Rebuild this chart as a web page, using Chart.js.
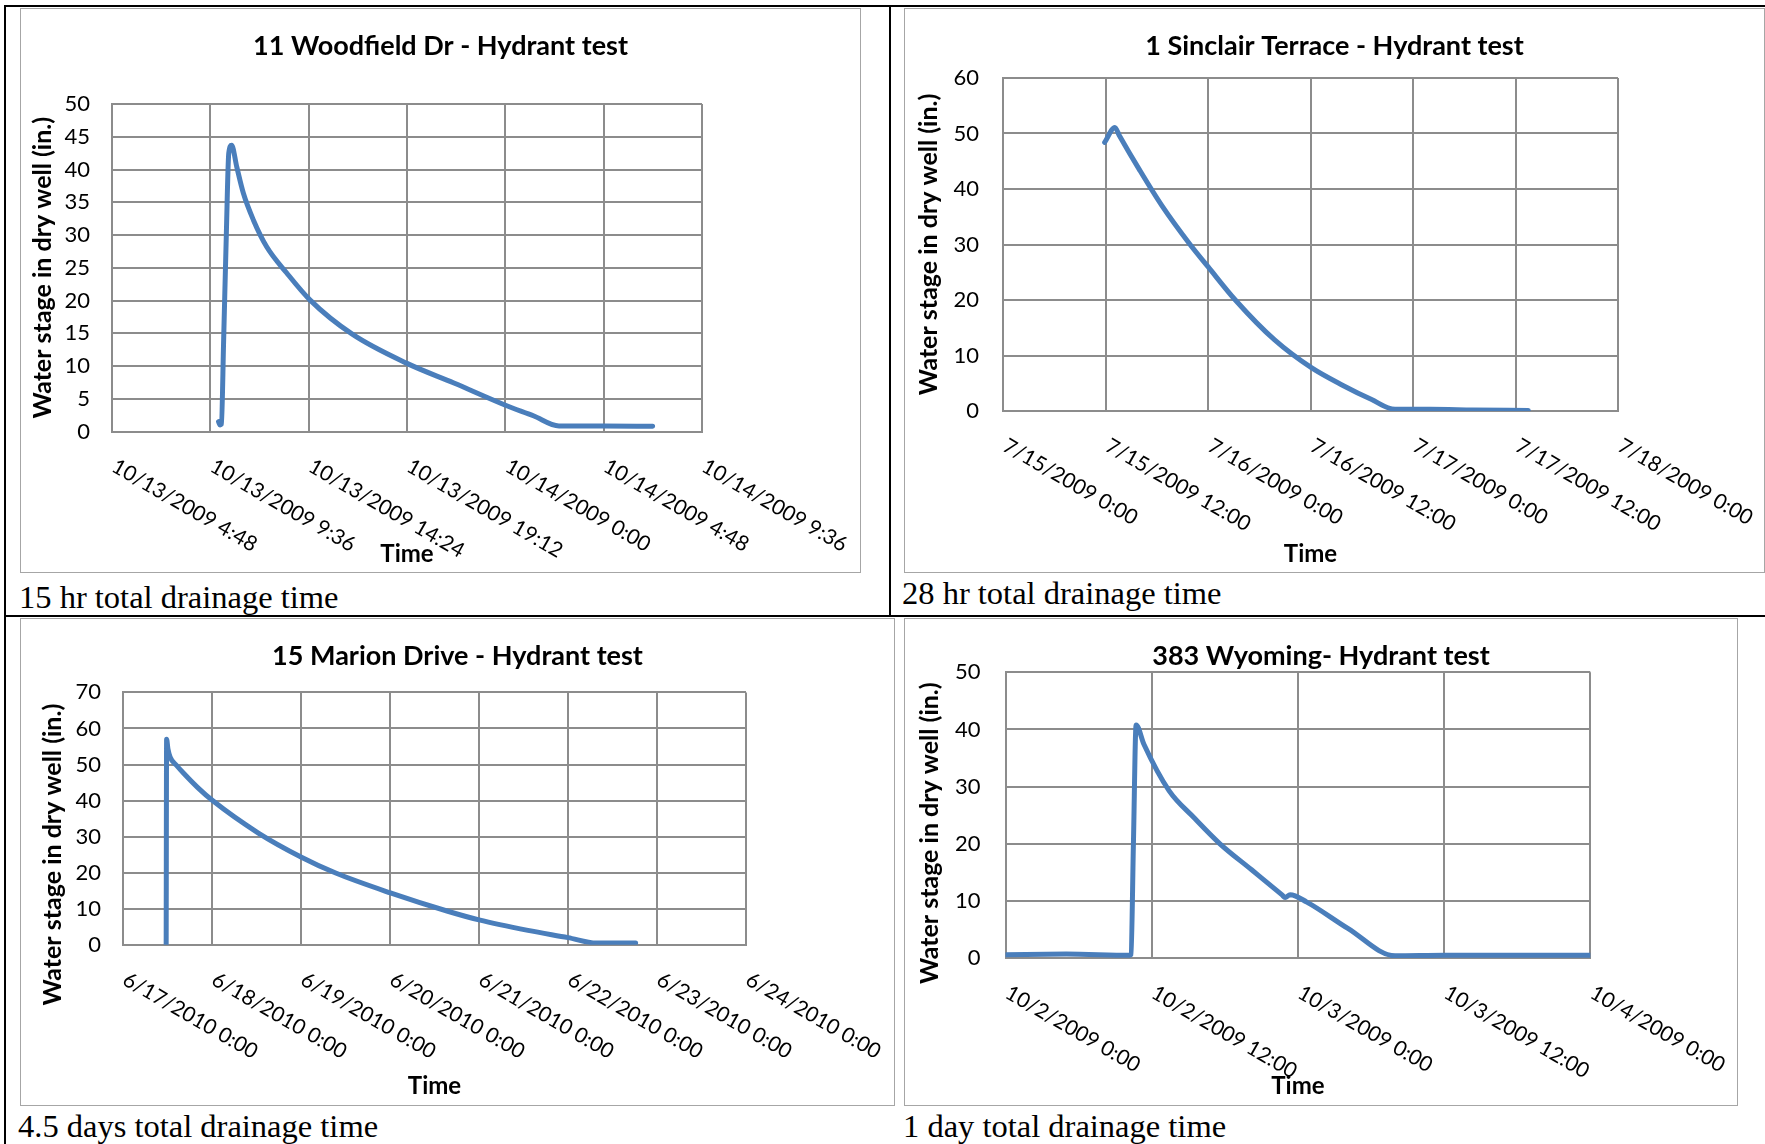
<!DOCTYPE html>
<html>
<head>
<meta charset="utf-8">
<script src="https://cdn.jsdelivr.net/npm/chart.js"></script>
<style>
  html, body { margin: 0; padding: 0; background: #fff; }
  body { width: 1765px; height: 1144px; position: relative; overflow: hidden; }
  .rule { position: absolute; background: #000; }
  .cell { position: absolute; }
  .cell canvas { position: absolute; left: 0; top: 0; }
  .frame { position: absolute; left: 0; top: 0; right: 0; bottom: 0; border: 1.5px solid #a6a6a6; }
  .cap { position: absolute; font-family: "Liberation Serif", "Times New Roman", serif; font-size: 32.5px; line-height: 32.5px; white-space: nowrap; color: #000; }
</style>
</head>
<body>

<!-- table rules -->
<div class="rule" style="left:4px; top:5px; width:1761px; height:2px;"></div>
<div class="rule" style="left:4px; top:5px; width:2px; height:1139px;"></div>
<div class="rule" style="left:889px; top:5px; width:2px; height:611px;"></div>
<div class="rule" style="left:4px; top:615px; width:1761px; height:2px;"></div>

<div class="cell" style="left:20px; top:8px; width:841px; height:565px;">
  <canvas id="woodfield" width="841" height="565"></canvas><div class="frame"></div>
</div>
<div class="cell" style="left:904px; top:8px; width:861px; height:565px;">
  <canvas id="sinclair" width="861" height="565"></canvas><div class="frame"></div>
</div>
<div class="cell" style="left:20px; top:618px; width:875px; height:488px;">
  <canvas id="marion" width="875" height="488"></canvas><div class="frame"></div>
</div>
<div class="cell" style="left:904px; top:618px; width:834px; height:488px;">
  <canvas id="wyoming" width="834" height="488"></canvas><div class="frame"></div>
</div>

<div class="cap" style="left:19px; top:581px;">15 hr total drainage time</div>
<div class="cap" style="left:902px; top:577px;">28 hr total drainage time</div>
<div class="cap" style="left:18px; top:1110px;">4.5 days total drainage time</div>
<div class="cap" style="left:903px; top:1110px;">1 day total drainage time</div>

<script>
// 11 Woodfield Dr, x = hours after 10/13/2009 4:48
const woodfieldTicks = ['10/13/2009 4:48', '10/13/2009 9:36', '10/13/2009 14:24', '10/13/2009 19:12',
                        '10/14/2009 0:00', '10/14/2009 4:48', '10/14/2009 9:36'];
const woodfieldHours = [5.20, 5.28, 5.34, 5.45, 5.58, 5.70, 5.84, 6.09, 6.41, 6.90, 7.55, 8.53, 9.66,
                        11.71, 14.40, 16.69, 19.18, 20.57, 21.82, 24.0, 26.39];
const woodfieldStage = [1.5, 1.0, 1.1, 14, 30, 42.5, 43.7, 40.4, 36.4, 32.3, 28.2, 24.2, 20.1,
                        14.9, 10.4, 7.4, 4.05, 2.4, 0.85, 0.85, 0.8];

// 1 Sinclair Terrace, x = hours after 7/15/2009 0:00
const sinclairTicks = ['7/15/2009 0:00', '7/15/2009 12:00', '7/16/2009 0:00', '7/16/2009 12:00',
                       '7/17/2009 0:00', '7/17/2009 12:00', '7/18/2009 0:00'];
const sinclairHours = [11.9, 13.1, 13.6, 16.0, 18.6, 21.9, 24.0, 27.2, 31.8, 36.1, 39.8, 43.1, 45.9, 50.0, 55.0, 61.5];
const sinclairStage = [48.4, 51.1, 49.7, 43.4, 37.0, 30.0, 26.0, 20.0, 12.8, 7.8, 4.6, 2.1, 0.3, 0.3, 0.2, 0.1];

// 15 Marion Drive, x = days after 6/17/2010 0:00
const marionTicks = ['6/17/2010 0:00', '6/18/2010 0:00', '6/19/2010 0:00', '6/20/2010 0:00',
                     '6/21/2010 0:00', '6/22/2010 0:00', '6/23/2010 0:00', '6/24/2010 0:00'];
const marionDays  = [0.485, 0.49, 0.505, 0.53, 0.6, 0.684, 0.84, 1.006, 1.521, 2.005, 2.39, 3.004, 3.649, 4.0, 4.55, 5.0, 5.32, 5.76];
const marionStage = [0.0, 57.0, 54.3, 52.0, 49.8, 47.5, 43.6, 40.0, 31.0, 24.3, 19.9, 14.4, 9.3, 6.9, 4.0, 2.0, 0.5, 0.5];

// 383 Wyoming, x = hours after 10/2/2009 0:00
const wyomingTicks = ['10/2/2009 0:00', '10/2/2009 12:00', '10/3/2009 0:00', '10/3/2009 12:00', '10/4/2009 0:00'];
const wyomingHours = [0, 5, 10.2, 10.3, 10.5, 10.72, 11.36, 13.42, 15.5, 17.6, 20.2, 22.7, 22.95, 23.36, 24.73,
                      28.1, 31.98, 36, 42, 48];
const wyomingStage = [0.6, 0.7, 0.5, 0.6, 20, 40.8, 37.4, 29.3, 24.5, 20.0, 15.45, 11.05, 10.6, 11.1, 9.8,
                      5.2, 0.4, 0.5, 0.5, 0.5];

const yTitle = 'Water stage in dry well (in.)';
const gridGray = '#8c8c8c';

// Excel-style text: centred title, shifted y title, x labels slanted down to the right
const excelText = {
  id: 'excelText',
  afterDraw(chart, args, o) {
    const ctx = chart.ctx, area = chart.chartArea, xs = chart.scales.x;
    ctx.save();
    ctx.fillStyle = '#000';
    ctx.font = 'bold 27px Lato';
    ctx.textAlign = 'center';
    ctx.textBaseline = 'middle';
    ctx.fillText(o.title, chart.width / 2, o.titleY);

    ctx.save();
    ctx.translate(o.yTitleX, (area.top + area.bottom) / 2 + o.yTitleShift);
    ctx.rotate(-Math.PI / 2);
    ctx.font = 'bold 25px Lato';
    ctx.fillText(yTitle, 0, 0);
    ctx.restore();

    ctx.font = '21px Lato';
    ctx.textAlign = 'left';
    ctx.textBaseline = 'top';
    xs.ticks.forEach((t, i) => {
      ctx.save();
      ctx.translate(xs.getPixelForTick(i) + 7, area.bottom + 24);
      ctx.rotate(Math.PI / 6);
      ctx.fillText(o.labels[i], 0, 0);
      ctx.restore();
    });
    ctx.restore();
  }
};

function drawChart(id, xs, ys, s) {
  const canvas = document.getElementById(id);
  const W = canvas.width, H = canvas.height;
  return new Chart(canvas, {
    type: 'line',
    data: {
      datasets: [{
        data: xs.map((x, i) => ({ x: x, y: ys[i] })),
        borderColor: '#4a7ebb',
        borderWidth: 5,
        pointRadius: 0,
        cubicInterpolationMode: 'monotone',
        borderCapStyle: 'round',
        borderJoinStyle: 'round',
        fill: false
      }]
    },
    plugins: [excelText],
    options: {
      responsive: false,
      animation: false,
      layout: { padding: { left: 0, top: s.top, right: W - s.right, bottom: 0 } },
      plugins: {
        legend: { display: false },
        tooltip: { enabled: false },
        excelText: { title: s.title, titleY: s.titleY, yTitleX: s.yTitleX, yTitleShift: s.yTitleShift, labels: s.labels }
      },
      scales: {
        x: {
          type: 'linear', min: 0, max: s.xMax,
          ticks: { display: false, stepSize: s.xStep },
          grid: { color: gridGray, lineWidth: 2, drawTicks: false },
          border: { color: gridGray, width: 2 },
          title: {
            display: true, text: 'Time', color: '#000',
            font: { family: 'Lato', weight: 'bold', size: 24 },
            padding: { top: 0, bottom: H - s.timeY - 14.4 }
          },
          afterFit: sc => { sc.height = H - s.bottom; }
        },
        y: {
          min: 0, max: s.yMax,
          ticks: { stepSize: s.yStep, padding: s.tickPad, color: '#000', font: { family: 'Lato', size: 22 } },
          grid: { color: gridGray, lineWidth: 2, drawTicks: false },
          border: { color: gridGray, width: 2 },
          afterFit: sc => { sc.width = s.left; }
        }
      }
    }
  });
}

drawChart('woodfield', woodfieldHours, woodfieldStage, {
  title: '11 Woodfield Dr - Hydrant test', labels: woodfieldTicks,
  left: 92, right: 682, top: 96, bottom: 423.5,
  titleY: 38.7, yTitleX: 23, yTitleShift: 0, tickPad: 22, timeY: 546,
  xMax: 28.8, xStep: 4.8, yMax: 50, yStep: 5
});
drawChart('sinclair', sinclairHours, sinclairStage, {
  title: '1 Sinclair Terrace - Hydrant test', labels: sinclairTicks,
  left: 99, right: 714, top: 70, bottom: 403,
  titleY: 38, yTitleX: 24.7, yTitleShift: 0, tickPad: 24, timeY: 546,
  xMax: 72, xStep: 12, yMax: 60, yStep: 10
});
drawChart('marion', marionDays, marionStage, {
  title: '15 Marion Drive - Hydrant test', labels: marionTicks,
  left: 103, right: 726, top: 74.4, bottom: 326.8,
  titleY: 38, yTitleX: 33, yTitleShift: 36, tickPad: 22, timeY: 468,
  xMax: 7, xStep: 1, yMax: 70, yStep: 10
});
drawChart('wyoming', wyomingHours, wyomingStage, {
  title: '383 Wyoming- Hydrant test', labels: wyomingTicks,
  left: 101.5, right: 686.3, top: 54.3, bottom: 340.1,
  titleY: 38, yTitleX: 26, yTitleShift: 18, tickPad: 25, timeY: 468,
  xMax: 48, xStep: 12, yMax: 50, yStep: 10
});
</script>
</body>
</html>
